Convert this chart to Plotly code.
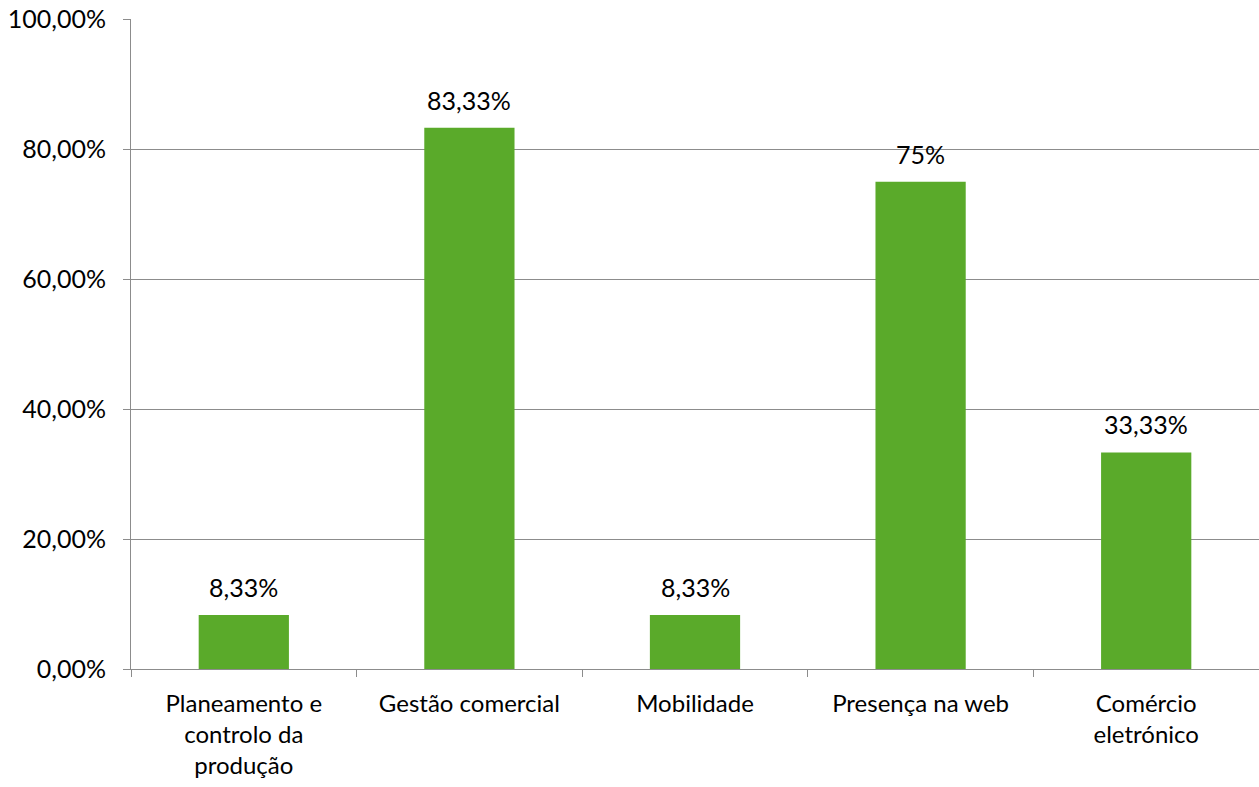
import plotly.graph_objects as go

categories = ["Planeamento e<br>controlo da<br>produção", "Gestão comercial", "Mobilidade",
              "Presença na web", "Comércio<br>eletrónico"]
values = [0.0833, 0.8333, 0.0833, 0.75, 0.3333]
labels = ["8,33%", "83,33%", "8,33%", "75%", "33,33%"]

font = "Lato, Open Sans, sans-serif"
fsize = 25

fig = go.Figure(go.Bar(
    x=categories, y=values,
    marker=dict(color="#5aaa2a", line=dict(width=0)),
    width=0.4,
))

for c, v, t in zip(categories, values, labels):
    fig.add_annotation(x=c, y=v, text=t, showarrow=False, yanchor="bottom",
                       yshift=11, font=dict(size=fsize, color="#000000", family=font))

fig.update_layout(
    width=1259, height=787,
    margin=dict(l=131, r=0, t=19, b=118),
    plot_bgcolor="white", paper_bgcolor="white",
    separators=",.",
    showlegend=False,
    font=dict(family=font, size=fsize, color="#000000"),
)
fig.update_yaxes(
    range=[0, 1.0005], tickvals=[0, 0.2, 0.4, 0.6, 0.8, 1.0], tickformat=".2%",
    showgrid=True, gridcolor="#8c8c8c", gridwidth=1,
    showline=True, linecolor="#8c8c8c", linewidth=1,
    ticks="outside", ticklen=7, tickcolor="#8c8c8c",
    ticklabelstandoff=12,
    zeroline=False, tickfont=dict(size=fsize),
)
fig.update_xaxes(
    showline=True, linecolor="#8c8c8c", linewidth=1,
    ticks="outside", tickson="boundaries", ticklen=7, tickcolor="#8c8c8c",
    ticklabelstandoff=13,
    tickfont=dict(size=24),
)

fig.write_html("out.html", config={"displayModeBar": False},
               post_script="document.body.style.margin='0';")
